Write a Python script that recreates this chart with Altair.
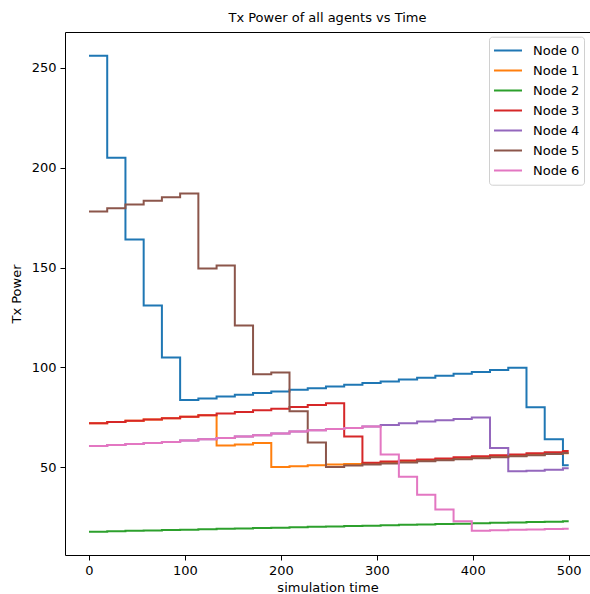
import altair as alt
import pandas as pd

# step start times (simulation time) plus final end time
times = [0, 19, 38, 57, 76, 95, 114, 133, 152, 171, 190, 209, 228, 247, 266,
         285, 304, 323, 342, 361, 380, 399, 418, 437, 456, 475, 494, 500]

node0 = [256, 205, 164, 131, 105, 83.7, 84.5, 85.4, 86.3, 87.2, 88.0, 88.8, 89.6, 90.5,
         91.3, 92.2, 93.0, 93.9, 94.8, 95.8, 96.8, 97.7, 98.7, 99.8, 80.0, 64.0, 51.0]
node1 = [72.0, 72.7, 73.3, 73.9, 74.5, 75.3, 76.1, 60.9, 61.4, 62.2, 50.2, 50.5, 51.0, 51.4,
         51.7, 52.1, 52.6, 53.0, 53.4, 53.9, 54.3, 54.8, 55.2, 55.7, 56.1, 56.6, 57.0]
node2 = [17.8, 18.0, 18.2, 18.4, 18.6, 18.8, 19.0, 19.2, 19.4, 19.6, 19.8, 20.0, 20.2, 20.4,
         20.6, 20.8, 21.0, 21.2, 21.4, 21.6, 21.8, 22.0, 22.2, 22.4, 22.6, 22.8, 23.0]
node3 = [72.0, 72.7, 73.3, 73.9, 74.5, 75.3, 76.1, 76.9, 77.7, 78.5, 79.3, 80.2, 81.2, 82.0,
         65.4, 52.3, 52.9, 53.4, 53.9, 54.4, 55.0, 55.5, 56.0, 56.4, 57.0, 57.5, 58.2]
node4 = [60.7, 61.2, 61.7, 62.2, 62.7, 63.4, 64.0, 64.7, 65.4, 66.0, 66.9, 67.9, 68.6, 69.2,
         69.7, 70.4, 71.2, 72.0, 72.9, 73.5, 74.2, 74.9, 59.7, 48.0, 48.3, 48.8, 49.5]
node5 = [178.0, 179.7, 181.5, 183.4, 185.2, 187.0, 149.5, 151.0, 121.0, 96.6, 97.5, 78.0, 62.4, 50.2,
         50.9, 51.4, 51.9, 52.4, 53.0, 53.5, 54.0, 54.5, 55.0, 55.5, 56.0, 56.7, 57.2]
node6 = [60.7, 61.2, 61.7, 62.2, 62.7, 63.4, 64.0, 64.7, 65.4, 66.0, 66.9, 67.9, 68.6, 69.2,
         69.7, 70.4, 56.4, 45.3, 36.2, 28.9, 23.0, 18.3, 18.5, 18.7, 18.9, 19.1, 19.3]

names = ["Node 0", "Node 1", "Node 2", "Node 3", "Node 4", "Node 5", "Node 6"]
colors = ["#1f77b4", "#ff7f0e", "#2ca02c", "#d62728", "#9467bd", "#8c564b", "#e377c2"]
x_ticks = [0, 100, 200, 300, 400, 500]
y_ticks = [50, 100, 150, 200, 250]

series = [node0, node1, node2, node3, node4, node5, node6]
rows = []
for name, vals in zip(names, series):
    ext = vals + [vals[-1]]
    for t, v in zip(times, ext):
        rows.append({"time": t, "power": v, "node": name})
df = pd.DataFrame(rows)

FONT = "DejaVu Sans"

xscale = alt.Scale(domain=[-25, 522.2], nice=False, zero=False)
yscale = alt.Scale(domain=[6.1, 267.9], nice=False, zero=False)

lines = alt.Chart(df).mark_line(interpolate="step-after", strokeWidth=2).encode(
    x=alt.X("time:Q", scale=xscale,
            axis=alt.Axis(values=x_ticks, title="simulation time", titlePadding=4)),
    y=alt.Y("power:Q", scale=yscale,
            axis=alt.Axis(values=y_ticks, title="Tx Power", titlePadding=8)),
    color=alt.Color("node:N", scale=alt.Scale(domain=names, range=colors),
                    legend=alt.Legend(title=None, orient="none", legendX=424, legendY=4.7,
                                      symbolType="stroke", symbolSize=784, symbolStrokeWidth=2,
                                      labelFontSize=13, labelFont=FONT, labelColor="black",
                                      clipHeight=19.7, rowPadding=0, padding=4,
                                      labelOffset=10, strokeColor="#d0d0d0",
                                      fillColor="white", cornerRadius=3)),
    order=alt.Order("time:Q"),
)

top = alt.Chart(df).mark_point(opacity=0).encode(
    x=alt.X("time:Q", scale=xscale,
            axis=alt.Axis(orient="top", labels=False, ticks=False, title=None,
                          domain=True, grid=False)),
)

chart = alt.layer(lines, top).resolve_axis(x="independent").properties(
    width=525, height=523,
    padding={"left": 65, "top": 32, "right": 0, "bottom": 39},
    autosize=alt.AutoSizeParams(type="none"),
    title=alt.TitleParams("Tx Power of all agents vs Time", fontSize=13, font=FONT,
                          fontWeight="normal", color="black", anchor="middle", offset=7),
).configure_view(stroke=None).configure_axis(
    domainColor="black", domainWidth=1, tickColor="black", tickSize=5, tickWidth=1,
    labelColor="black", labelFont=FONT, labelFontSize=13, labelPadding=4,
    titleColor="black", titleFont=FONT, titleFontSize=13, titleFontWeight="normal",
    grid=False,
)

chart.save("out.html", embed_options={"renderer": "svg", "actions": False})
